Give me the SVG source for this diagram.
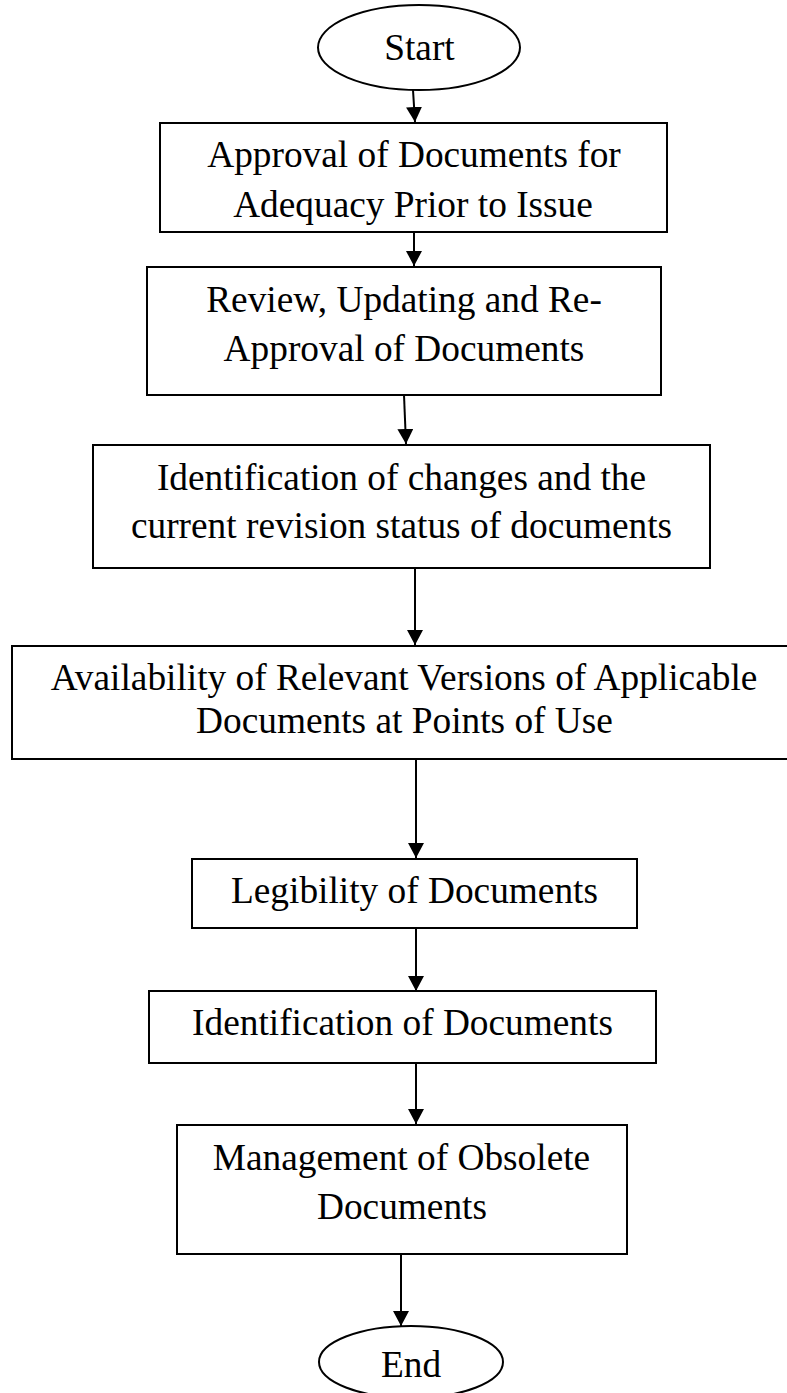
<svg xmlns="http://www.w3.org/2000/svg" width="787" height="1393" viewBox="0 0 787 1393">
<style>
.box{fill:#fff;stroke:#000;stroke-width:2}
.t{font-family:"Liberation Serif","Times New Roman",serif;font-size:37.33px;fill:#000;text-anchor:middle}
.c{stroke:#000;stroke-width:2;fill:none;marker-end:url(#ah)}
</style>
<defs>
<marker id="ah" markerWidth="16" markerHeight="16" viewBox="0 0 16 16" refX="15" refY="8" orient="auto" markerUnits="userSpaceOnUse">
<path d="M0,0 L15,8 L0,16 Z" fill="#000"/>
</marker>
</defs>
<rect width="787" height="1393" fill="#fff"/>
<g id="connectors">
<line class="c" x1="413" y1="90" x2="415" y2="122"/>
<line class="c" x1="414" y1="232" x2="414" y2="266"/>
<line class="c" x1="404" y1="395" x2="406" y2="444"/>
<line class="c" x1="415" y1="568" x2="415" y2="645"/>
<line class="c" x1="416" y1="759" x2="416" y2="858"/>
<line class="c" x1="416" y1="928" x2="416" y2="991"/>
<line class="c" x1="416" y1="1063" x2="416" y2="1124"/>
<line class="c" x1="401" y1="1254" x2="401" y2="1326"/>
</g>
<g id="start">
<ellipse class="box" cx="419" cy="47.5" rx="101" ry="42.5"/>
<text class="t" x="419.5" y="60">Start</text>
</g>
<g id="n1">
<rect class="box" x="160" y="123" width="507" height="109"/>
<text class="t" x="414" y="167">Approval of Documents for</text>
<text class="t" x="413" y="217">Adequacy Prior to Issue</text>
</g>
<g id="n2">
<rect class="box" x="147" y="267" width="514" height="128"/>
<text class="t" x="404" y="312">Review, Updating and Re-</text>
<text class="t" x="404" y="361">Approval of Documents</text>
</g>
<g id="n3">
<rect class="box" x="93" y="445" width="617" height="123"/>
<text class="t" x="401.5" y="490">Identification of changes and the</text>
<text class="t" x="401.5" y="538">current revision status of documents</text>
</g>
<g id="n4">
<rect class="box" x="12" y="646" width="784" height="113"/>
<text class="t" x="404" y="690">Availability of Relevant Versions of Applicable</text>
<text class="t" x="404.5" y="733">Documents at Points of Use</text>
</g>
<g id="n5">
<rect class="box" x="192" y="859" width="445" height="69"/>
<text class="t" x="414.5" y="903">Legibility of Documents</text>
</g>
<g id="n6">
<rect class="box" x="149" y="991" width="507" height="72"/>
<text class="t" x="402.5" y="1035">Identification of Documents</text>
</g>
<g id="n7">
<rect class="box" x="177" y="1125" width="450" height="129"/>
<text class="t" x="401.5" y="1170">Management of Obsolete</text>
<text class="t" x="402" y="1219">Documents</text>
</g>
<g id="end">
<ellipse class="box" cx="411" cy="1362" rx="92" ry="36"/>
<text class="t" x="411" y="1377">End</text>
</g>
</svg>
